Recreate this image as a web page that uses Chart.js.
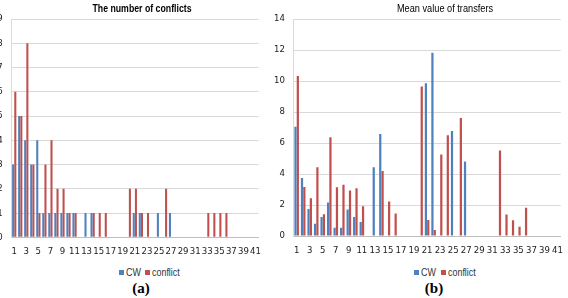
<!DOCTYPE html>
<html><head><meta charset="utf-8">
<script src="https://cdn.jsdelivr.net/npm/chart.js@4.4.0/dist/chart.umd.min.js"></script>
<style>
html,body{margin:0;padding:0;background:#fff;width:568px;height:298px;overflow:hidden;position:relative;font-family:"Liberation Sans",Arial,sans-serif;}
canvas{position:absolute;top:0;}
#c1{left:0;}
#c2{left:270px;}
.t{position:absolute;top:1.5px;font-size:11.5px;color:#000;white-space:nowrap;transform:translateX(-50%) scaleX(0.8);transform-origin:50% 50%;}
.sq{position:absolute;top:270px;width:5px;height:5px;}
.lt{position:absolute;top:265.5px;font-size:10.5px;color:#333;white-space:nowrap;transform:scaleX(0.85);transform-origin:0 50%;}
.cap{position:absolute;top:280px;font-family:"Liberation Serif","Times New Roman",serif;font-weight:bold;font-size:15px;color:#000;transform:translateX(-50%);}
</style></head>
<body>
<canvas id="c1" width="270" height="262"></canvas>
<canvas id="c2" width="302" height="262"></canvas>
<div class="t" style="left:142px;font-weight:bold;transform:translateX(-50%) scaleX(0.76);">The number of conflicts</div>
<div class="t" style="left:445px;">Mean value of transfers</div>
<div class="sq" style="left:119px;background:#4F81BD"></div><div class="lt" style="left:126px">CW</div>
<div class="sq" style="left:145px;background:#C0504D"></div><div class="lt" style="left:152px">conflict</div>
<div class="sq" style="left:414px;background:#4F81BD"></div><div class="lt" style="left:421px">CW</div>
<div class="sq" style="left:441px;background:#C0504D"></div><div class="lt" style="left:448px">conflict</div>
<div class="cap" style="left:141px">(a)</div>
<div class="cap" style="left:434px">(b)</div>
<script>
const categories = ['1','2','3','4','5','6','7','8','9','10','11','12','13','14','15','16','17','18','19','20','21','22','23','24','25','26','27','28','29','30','31','32','33','34','35','36','37','38','39','40','41'];
// The number of conflicts
const cwConflicts =       [3,5,4,3,4,1,1,1,1,1,1,0,1,1,0,0,0,0,0,0,1,1,0,0,1,0,1,0,0,0,0,0,0,0,0,0,0,0,0,0,0];
const conflictConflicts = [6,5,8,3,1,3,4,2,2,1,1,0,0,1,1,1,0,0,0,2,2,1,1,0,0,2,0,0,0,0,0,0,1,1,1,1,0,0,0,0,0];
// Mean value of transfers
const cwTransfers =       [7.05,3.74,1.75,0.79,1.22,2.16,0.53,0.53,1.71,1.22,0.9,0,4.44,6.58,0,0,0,0,0,0,9.85,11.83,0,0,6.77,0,4.81,0,0,0,0,0,0,0,0,0,0,0,0,0,0];
const conflictTransfers = [10.33,3.16,2.44,4.44,1.41,6.37,3.14,3.31,2.93,3.08,1.92,0,0,4.19,2.22,1.45,0,0,0,9.65,1.04,0.38,5.26,6.5,0,7.62,0,0,0,0,0,5.51,1.38,1.02,0.6,1.83,0,0,0,0,0];
const conflictTicks = [0,1,2,3,4,5,6,7,8,9];
const transferTicks = [0,2,4,6,8,10,12,14];
const seriesNames = ['CW','conflict'];

const FONT = "'Liberation Sans Narrow','DejaVu Sans Condensed',Arial,sans-serif";
const BLUE = '#4F81BD', RED = '#C0504D';

function makeChart(id, cw, cf, ticksArr, yAxisWidth, padRight, xHeight) {
  const step = ticksArr[1] - ticksArr[0];
  return new Chart(document.getElementById(id), {
    type: 'bar',
    data: {
      labels: categories,
      datasets: [
        {label: seriesNames[0], data: cw, backgroundColor: BLUE, categoryPercentage: 0.72, barPercentage: 0.95},
        {label: seriesNames[1], data: cf, backgroundColor: RED, categoryPercentage: 0.72, barPercentage: 0.95}
      ]
    },
    options: {
      responsive: false,
      animation: false,
      devicePixelRatio: 1,
      layout: {padding: {top: 19, right: padRight, left: 0, bottom: 0}},
      plugins: {legend: {display: false}, tooltip: {enabled: false}, title: {display: false}},
      scales: {
        x: {
          grid: {display: false, drawTicks: false},
          border: {display: true, color: '#bfbfbf'},
          ticks: {
            autoSkip: false, maxRotation: 0, minRotation: 0, padding: 9,
            color: '#222', font: {family: FONT, size: 9.5},
            callback: (v, i) => (i % 2 === 0 ? categories[i] : '')
          },
          afterFit: s => { s.height = xHeight; }
        },
        y: {
          min: ticksArr[0], max: ticksArr[ticksArr.length - 1],
          grid: {color: '#d9d9d9', drawTicks: false},
          border: {display: true, color: '#d9d9d9'},
          ticks: {stepSize: step, padding: 8.5, color: '#222', font: {family: FONT, size: 9.5}},
          afterFit: s => { s.width = yAxisWidth; }
        }
      }
    }
  });
}
makeChart('c1', cwConflicts, conflictConflicts, conflictTicks, 11.2, 6.6, 262 - 237.3);
makeChart('c2', cwTransfers, conflictTransfers, transferTicks, 23.4, 5.2, 262 - 236);
</script>
</body></html>
